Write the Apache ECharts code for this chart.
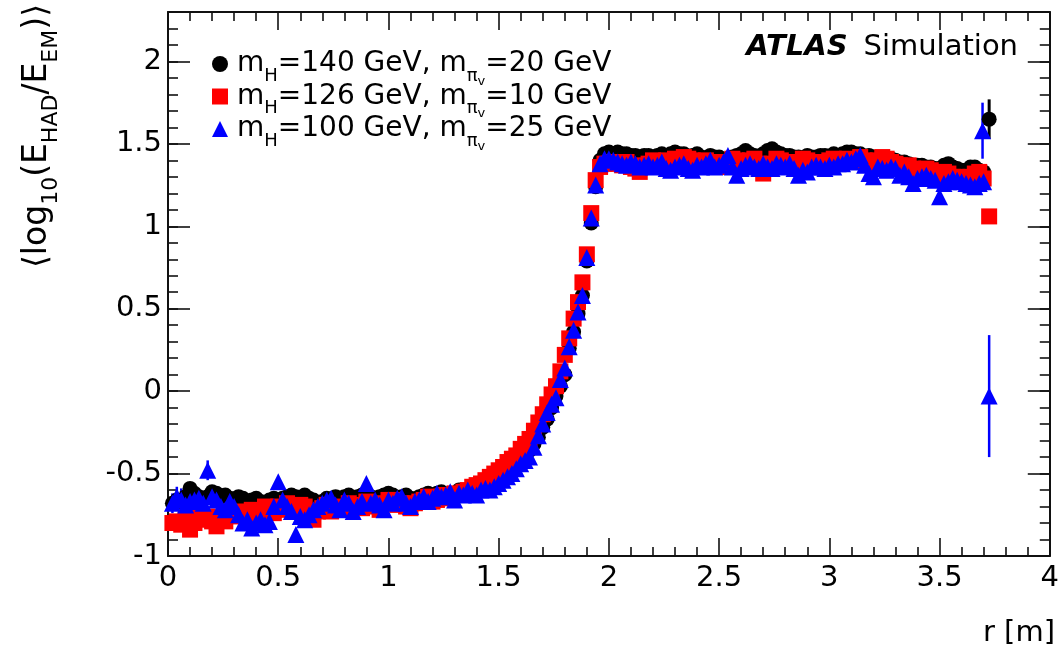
<!DOCTYPE html>
<html><head><meta charset="utf-8">
<script src="https://cdn.jsdelivr.net/npm/echarts@6/dist/echarts.min.js"></script>
<style>html,body{margin:0;padding:0;background:#fff}#c{width:1062px;height:652px}</style>
</head><body><div id="c"></div>
<script>
// ---- data ----
const r = [
  0.02,0.04,0.06,0.08,0.10,0.12,0.14,0.16,0.18,0.20,
  0.22,0.24,0.26,0.28,0.30,0.32,0.34,0.36,0.38,0.40,
  0.42,0.44,0.46,0.48,0.50,0.52,0.54,0.56,0.58,0.60,
  0.62,0.64,0.66,0.68,0.70,0.72,0.74,0.76,0.78,0.80,
  0.82,0.84,0.86,0.88,0.90,0.92,0.94,0.96,0.98,1.00,
  1.02,1.04,1.06,1.08,1.10,1.12,1.14,1.16,1.18,1.20,
  1.22,1.24,1.26,1.28,1.30,1.32,1.34,1.36,1.38,1.40,
  1.42,1.44,1.46,1.48,
  1.50,1.52,1.54,1.56,1.58,1.60,1.62,1.64,1.66,1.68,1.70,1.72,1.74,1.76,1.78,1.80,1.82,1.84,1.86,1.88,
  1.90,1.92,1.94,1.96,1.98,2.00,
  2.02,2.04,2.06,2.08,2.10,2.12,2.14,2.16,2.18,2.20,
  2.22,2.24,2.26,2.28,2.30,2.32,2.34,2.36,2.38,2.40,
  2.42,2.44,2.46,2.48,2.50,2.52,2.54,2.56,2.58,2.60,
  2.62,2.64,2.66,2.68,2.70,2.72,2.74,2.76,2.78,2.80,
  2.82,2.84,2.86,2.88,2.90,2.92,2.94,2.96,2.98,3.00,
  3.02,3.04,3.06,3.08,3.10,3.12,3.14,3.16,3.18,3.20,
  3.22,3.24,3.26,3.28,3.30,3.32,3.34,3.36,3.38,3.40,
  3.42,3.44,3.46,3.48,3.50,3.52,3.54,3.56,3.58,3.60,
  3.62,3.64,3.66,3.68,3.70,
  3.725
];
const blackY = [
  -0.68,-0.66,-0.67,-0.64,-0.59,-0.62,-0.64,-0.65,-0.64,-0.61,
  -0.62,-0.64,-0.63,-0.65,-0.66,-0.64,-0.65,-0.67,-0.66,-0.65,
  -0.67,-0.68,-0.66,-0.65,-0.66,-0.65,-0.64,-0.63,-0.64,-0.66,
  -0.63,-0.65,-0.66,-0.68,-0.67,-0.65,-0.66,-0.64,-0.65,-0.64,
  -0.63,-0.65,-0.64,-0.63,-0.66,-0.64,-0.65,-0.64,-0.63,-0.62,
  -0.63,-0.65,-0.64,-0.63,-0.65,-0.66,-0.64,-0.63,-0.62,-0.63,
  -0.62,-0.61,-0.63,-0.62,-0.62,-0.60,-0.61,-0.60,-0.61,-0.59,
  -0.59,-0.58,-0.57,-0.56,
  -0.55,-0.53,-0.51,-0.48,-0.46,-0.43,-0.40,-0.36,-0.32,-0.28,-0.22,-0.17,-0.10,-0.03,0.03,0.10,0.26,0.36,0.47,0.58,
  0.79,1.02,1.24,1.40,1.44,1.45,
  1.44,1.45,1.44,1.44,1.43,1.43,1.42,1.43,1.43,1.42,
  1.43,1.44,1.43,1.44,1.45,1.44,1.44,1.42,1.43,1.44,
  1.42,1.41,1.43,1.42,1.42,1.40,1.41,1.42,1.43,1.44,
  1.46,1.44,1.43,1.42,1.44,1.46,1.47,1.45,1.44,1.43,
  1.43,1.42,1.42,1.41,1.43,1.42,1.42,1.43,1.43,1.42,
  1.44,1.43,1.44,1.45,1.45,1.44,1.44,1.42,1.43,1.42,
  1.41,1.40,1.40,1.41,1.40,1.39,1.39,1.38,1.37,1.37,
  1.37,1.36,1.36,1.35,1.35,1.37,1.38,1.36,1.35,1.34,
  1.34,1.36,1.36,1.34,1.33,
  1.65
];
const redY = [
  -0.80,-0.79,-0.81,-0.77,-0.84,-0.80,-0.74,-0.78,-0.76,-0.79,
  -0.82,-0.77,-0.79,-0.75,-0.76,-0.73,-0.74,-0.76,-0.72,-0.75,
  -0.73,-0.70,-0.71,-0.74,-0.70,-0.72,-0.68,-0.71,-0.73,-0.69,
  -0.70,-0.74,-0.78,-0.73,-0.71,-0.69,-0.73,-0.71,-0.70,-0.72,
  -0.68,-0.70,-0.69,-0.71,-0.67,-0.69,-0.70,-0.72,-0.68,-0.66,
  -0.66,-0.69,-0.68,-0.70,-0.71,-0.68,-0.67,-0.66,-0.64,-0.67,
  -0.66,-0.64,-0.63,-0.65,-0.62,-0.63,-0.61,-0.60,-0.58,-0.57,
  -0.56,-0.54,-0.52,-0.50,
  -0.48,-0.46,-0.43,-0.41,-0.39,-0.35,-0.32,-0.29,-0.24,-0.19,-0.14,-0.08,-0.02,0.03,0.12,0.22,0.32,0.44,0.54,0.66,
  0.83,1.08,1.28,1.36,1.38,1.38,
  1.39,1.38,1.37,1.39,1.36,1.35,1.33,1.37,1.38,1.40,
  1.39,1.38,1.40,1.39,1.41,1.40,1.42,1.41,1.40,1.39,
  1.38,1.40,1.39,1.37,1.36,1.39,1.38,1.41,1.40,1.38,
  1.39,1.40,1.41,1.38,1.32,1.36,1.38,1.41,1.40,1.39,
  1.37,1.38,1.39,1.41,1.40,1.38,1.37,1.39,1.38,1.40,
  1.41,1.38,1.39,1.41,1.40,1.39,1.42,1.40,1.38,1.39,
  1.40,1.42,1.41,1.39,1.38,1.37,1.36,1.37,1.35,1.34,
  1.33,1.35,1.34,1.32,1.31,1.33,1.32,1.30,1.30,1.29,
  1.28,1.30,1.32,1.33,1.29,
  1.06
];
const blueY = [
  -0.68,-0.64,-0.66,-0.69,-0.67,-0.66,-0.65,-0.68,-0.48,-0.64,
  -0.66,-0.70,-0.72,-0.67,-0.70,-0.75,-0.80,-0.78,-0.83,-0.80,
  -0.78,-0.81,-0.79,-0.70,-0.55,-0.66,-0.70,-0.73,-0.87,-0.76,
  -0.78,-0.75,-0.72,-0.70,-0.68,-0.66,-0.65,-0.69,-0.72,-0.66,
  -0.68,-0.73,-0.70,-0.67,-0.56,-0.68,-0.66,-0.69,-0.72,-0.66,
  -0.68,-0.65,-0.64,-0.68,-0.70,-0.67,-0.66,-0.64,-0.67,-0.65,
  -0.62,-0.64,-0.63,-0.61,-0.66,-0.62,-0.63,-0.60,-0.62,-0.63,
  -0.60,-0.59,-0.60,-0.58,
  -0.56,-0.54,-0.52,-0.50,-0.47,-0.44,-0.42,-0.40,-0.34,-0.27,-0.20,-0.13,-0.08,-0.04,0.07,0.14,0.27,0.37,0.48,0.58,
  0.81,1.05,1.25,1.38,1.41,1.41,
  1.40,1.39,1.38,1.37,1.39,1.38,1.36,1.37,1.38,1.36,
  1.37,1.39,1.35,1.34,1.36,1.37,1.38,1.35,1.34,1.37,
  1.36,1.38,1.40,1.36,1.37,1.39,1.43,1.36,1.31,1.35,
  1.37,1.38,1.36,1.35,1.38,1.36,1.35,1.38,1.37,1.36,
  1.38,1.35,1.31,1.34,1.33,1.36,1.37,1.36,1.35,1.37,
  1.36,1.38,1.38,1.40,1.39,1.41,1.43,1.37,1.32,1.30,
  1.36,1.35,1.34,1.36,1.35,1.31,1.33,1.30,1.26,1.29,
  1.30,1.31,1.29,1.28,1.18,1.26,1.27,1.29,1.28,1.27,
  1.26,1.25,1.24,1.26,1.27,
  -0.03
];
const blueExtraR = [3.695];
const blueExtraY = [1.58];
const blueExtraErr = [0.17];
const blueErrLeft = [0.06,0.06,0.07,0.06,0.05,0.06,0.06,0.05,0.06,0.05,0.05,0.06];   // errors of the first blue points
const finalErr = { black: 0.12, red: 0.02, blue: 0.37 };          // errors of the last bin
const seriesNames = ['mH=140 GeV, mπv=20 GeV', 'mH=126 GeV, mπv=10 GeV', 'mH=100 GeV, mπv=25 GeV'];
const legendParts = [['140','20'], ['126','10'], ['100','25']];
const xMin = 0, xMax = 4, xStep = 0.5;
const yMin = -1, yMax = 2.3, yStep = 0.5;

// ---- chart ----
const FONT = 'DejaVu Sans';
const last = r.length - 1;
const pts = (xs, ys) => xs.map((x, i) => [x, ys[i]]);

const errBlack = [[r[last], blackY[last] - finalErr.black, blackY[last] + finalErr.black]];
const errRed = [[r[last], redY[last] - finalErr.red, redY[last] + finalErr.red]];
const errBlue = blueErrLeft.map((e, i) => [r[i], blueY[i] - e, blueY[i] + e])
  .concat(blueExtraR.map((x, i) => [x, blueExtraY[i] - blueExtraErr[i], blueExtraY[i] + blueExtraErr[i]]))
  .concat([[r[last], blueY[last] - finalErr.blue, blueY[last] + finalErr.blue]]);

function errSeries(data, color, w) {
  return {
    type: 'custom', data: data, z: 1, silent: true,
    encode: { x: 0, y: [1, 2] },
    renderItem: (params, api) => {
      const x = api.value(0);
      const p1 = api.coord([x, api.value(1)]);
      const p2 = api.coord([x, api.value(2)]);
      return { type: 'line', shape: { x1: p1[0], y1: p1[1], x2: p2[0], y2: p2[1] },
               style: { stroke: color, lineWidth: w } };
    }
  };
}

const tickColor = '#111';
function xAx(pos, labels) {
  return {
    type: 'value', min: xMin, max: xMax, interval: xStep, position: pos,
    axisLine: { show: true, onZero: false, lineStyle: { color: tickColor, width: 2 } },
    axisTick: { show: true, inside: true, length: 18, lineStyle: { color: tickColor, width: 1.6 } },
    minorTick: { show: true, splitNumber: 5, length: 9, lineStyle: { color: tickColor, width: 1.6 } },
    axisLabel: labels ? { show: true, fontFamily: FONT, fontSize: 29, color: '#000', margin: 8 } : { show: false },
    splitLine: { show: false }, minorSplitLine: { show: false }
  };
}
function yAx(pos, step, len, labels, line) {
  return {
    type: 'value', min: yMin, max: yMax, interval: step, position: pos,
    axisLine: { show: line, onZero: false, lineStyle: { color: tickColor, width: 2 } },
    axisTick: { show: true, inside: true, length: len, lineStyle: { color: tickColor, width: 1.6 } },
    axisLabel: labels ? { show: true, fontFamily: FONT, fontSize: 29, color: '#000', margin: 6, showMaxLabel: false,
                          formatter: v => (Math.abs(v - yMax) < 1e-9 ? '' : String(v)) } : { show: false },
    splitLine: { show: false }
  };
}

const main = { fontFamily: FONT, fontSize: 28, lineHeight: 42, color: '#000' };
const sub = { fontFamily: FONT, fontSize: 18, lineHeight: 10, verticalAlign: 'bottom', color: '#000' };
const subsub = { fontFamily: FONT, fontSize: 13, lineHeight: 1, verticalAlign: 'bottom', color: '#000', padding: [0, 0, -3, 0] };

const option = {
  animation: false,
  backgroundColor: '#fff',
  grid: { left: 168, right: 7, top: 12, bottom: 96, containLabel: false },
  xAxis: [xAx('bottom', true), xAx('top', false)],
  yAxis: [yAx('left', yStep, 22, true, true), yAx('left', 0.1, 10, false, false),
          yAx('right', yStep, 22, false, true), yAx('right', 0.1, 10, false, false)],
  legend: {
    orient: 'vertical', left: 207, top: 45, itemWidth: 16, itemHeight: 16, itemGap: -5.5,
    selectedMode: false,
    data: [{ name: seriesNames[0], icon: 'circle' }, { name: seriesNames[1], icon: 'rect' }, { name: seriesNames[2], icon: 'triangle' }],
    formatter: name => {
      const p = legendParts[seriesNames.indexOf(name)];
      return '{m|m}{s|H}{m|=' + p[0] + ' GeV, m}{s|π}{ss|v}{m|=' + p[1] + ' GeV}';
    },
    textStyle: { fontFamily: FONT, fontSize: 28, color: '#000', padding: [0, 0, 0, 4], rich: { m: main, s: sub, ss: subsub } }
  },
  graphic: [
    { type: 'text', x: 1018, y: 47, z: 10,
      style: { text: '{a|ATLAS}{b|Simulation}', align: 'right', verticalAlign: 'middle',
        rich: { a: { fontFamily: FONT, fontSize: 29, fontWeight: 'bold', fontStyle: 'italic', color: '#000' },
                b: { fontFamily: FONT, fontSize: 29, color: '#000', padding: [0, 0, 0, 16] } } } },
    { type: 'text', x: 1055, y: 633, z: 10,
      style: { text: 'r [m]', align: 'right', verticalAlign: 'middle', fontFamily: FONT, fontSize: 29, fill: '#000' } },
    { type: 'text', x: 37, y: 4, rotation: Math.PI / 2, z: 10,
      style: { text: '{m|⟨log}{s|10}{m|(E}{s|HAD}{m|/E}{s|EM}{m|)⟩}', align: 'right', verticalAlign: 'middle',
        rich: { m: { fontFamily: FONT, fontSize: 33, lineHeight: 50, color: '#000' },
                s: { fontFamily: FONT, fontSize: 22, lineHeight: 12, verticalAlign: 'bottom', color: '#000' } } } }
  ],
  series: [
    errSeries(errBlack, '#000', 3),
    errSeries(errRed, '#ff0000', 2.5),
    errSeries(errBlue, '#0000ff', 2.5),
    { name: seriesNames[0], type: 'scatter', symbol: 'circle', symbolSize: 15, z: 2,
      itemStyle: { color: '#000', opacity: 1 }, data: pts(r, blackY) },
    { name: seriesNames[1], type: 'scatter', symbol: 'rect', symbolSize: 16, z: 3,
      itemStyle: { color: '#ff0000', opacity: 1 }, data: pts(r, redY) },
    { name: seriesNames[2], type: 'scatter', symbol: 'triangle', symbolSize: 17, z: 4,
      itemStyle: { color: '#0000ff', opacity: 1 }, data: pts(r, blueY).concat(pts(blueExtraR, blueExtraY)) }
  ]
};
const chart = echarts.init(document.getElementById('c'), null, { renderer: 'canvas' });
chart.setOption(option);
</script>
</body></html>
